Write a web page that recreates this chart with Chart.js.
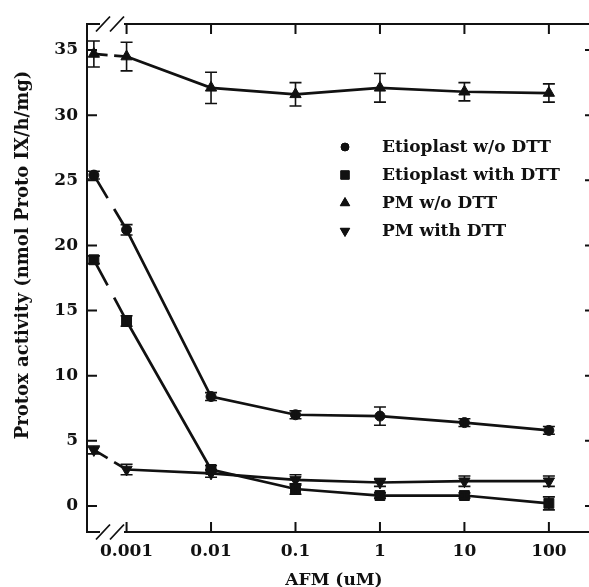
<!DOCTYPE html>
<html>
<head>
<meta charset="utf-8">
<title>Protox activity vs AFM</title>
<script src="https://cdn.jsdelivr.net/npm/chart.js@4/dist/chart.umd.min.js"></script>
<style>
  html, body { margin: 0; padding: 0; background: #fff; }
  canvas { display: block; }
</style>
</head>
<body>
<canvas id="chart" width="589" height="587"></canvas>
<script>
// control (no AFM) is drawn left of the axis break, at this dose on the log axis
const CONTROL_DOSE = 0.00041;

const afmDoses = [CONTROL_DOSE, 0.001, 0.01, 0.1, 1, 10, 100];
const xTickValues = [0.001, 0.01, 0.1, 1, 10, 100];
const xTickLabels = ['0.001', '0.01', '0.1', '1', '10', '100'];
const yTickValues = [0, 5, 10, 15, 20, 25, 30, 35];

const seriesLabels = ['Etioplast w/o DTT', 'Etioplast with DTT', 'PM w/o DTT', 'PM with DTT'];

const etioplastNoDtt    = [25.4, 21.2, 8.4, 7.0, 6.9, 6.4, 5.8];
const etioplastNoDttErr = [0.3, 0.4, 0.3, 0.3, 0.7, 0.3, 0.3];
const etioplastDtt      = [18.9, 14.2, 2.8, 1.3, 0.8, 0.8, 0.2];
const etioplastDttErr   = [0.3, 0.4, 0.3, 0.4, 0.2, 0.2, 0.5];
const pmNoDtt           = [34.7, 34.5, 32.1, 31.6, 32.1, 31.8, 31.7];
const pmNoDttErr        = [1.0, 1.1, 1.2, 0.9, 1.1, 0.7, 0.7];
const pmDtt             = [4.3, 2.8, 2.5, 2.0, 1.8, 1.9, 1.9];
const pmDttErr          = [0.3, 0.4, 0.3, 0.4, 0.3, 0.4, 0.4];

const INK = '#111';
const FONT = "'DejaVu Serif', serif";

Chart.defaults.font.family = FONT;
Chart.defaults.font.weight = 'bold';
Chart.defaults.font.size = 17;
Chart.defaults.color = INK;

function toPoints(values) {
  return values.map((v, i) => ({ x: afmDoses[i], y: v }));
}

// the first piece (control -> 0.001) crosses the axis break, so it is broken too
function breakDash(ctx) {
  if (ctx.p0DataIndex !== 0) return undefined;
  const len = Math.hypot(ctx.p1.x - ctx.p0.x, ctx.p1.y - ctx.p0.y);
  return [len * 0.42, len * 0.2, len];
}

function makeDataset(label, values, errors, style, rotation, radius) {
  return {
    label: label,
    data: toPoints(values),
    errors: errors,
    borderColor: INK,
    backgroundColor: INK,
    borderWidth: 2.7,
    pointStyle: style,
    pointRotation: rotation,
    pointRadius: radius,
    pointBorderWidth: 1,
    pointBackgroundColor: INK,
    pointBorderColor: INK,
    tension: 0,
    clip: false,
    segment: { borderDash: breakDash }
  };
}

const frame = {
  id: 'frame',
  beforeDatasetsDraw(chart) {
    const { ctx, chartArea: a, scales } = chart;
    const W = chart.width;
    const gap0 = a.left + 13, gap1 = a.left + 37;
    ctx.save();
    ctx.strokeStyle = INK;
    ctx.lineWidth = 2;
    ctx.beginPath();
    ctx.moveTo(a.left, a.top - 1);
    ctx.lineTo(a.left, a.bottom + 1);
    [a.bottom, a.top].forEach(yy => {
      ctx.moveTo(a.left, yy); ctx.lineTo(gap0, yy);
      ctx.moveTo(gap1, yy); ctx.lineTo(W, yy);
    });
    yTickValues.forEach(v => {
      const py = scales.y.getPixelForValue(v);
      ctx.moveTo(a.left, py); ctx.lineTo(a.left + 10, py);
      ctx.moveTo(W, py); ctx.lineTo(W - 4, py);
    });
    xTickValues.forEach(v => {
      const px = scales.x.getPixelForValue(v);
      ctx.moveTo(px, a.bottom); ctx.lineTo(px, a.bottom - 10);
      ctx.moveTo(px, a.top); ctx.lineTo(px, a.top + 10);
    });
    ctx.stroke();

    // break marks "//"
    ctx.lineWidth = 1.8;
    ctx.beginPath();
    [a.bottom, a.top].forEach(yy => {
      [a.left + 16, a.left + 30].forEach(cx => {
        ctx.moveTo(cx - 7, yy + 7.5);
        ctx.lineTo(cx + 7, yy - 7.5);
      });
    });
    ctx.stroke();
    ctx.restore();
  }
};

const errorBars = {
  id: 'errorBars',
  afterDatasetsDraw(chart) {
    const { ctx, scales } = chart;
    ctx.save();
    ctx.strokeStyle = INK;
    ctx.lineWidth = 1.6;
    chart.data.datasets.forEach((ds, di) => {
      const meta = chart.getDatasetMeta(di);
      meta.data.forEach((pt, i) => {
        const v = ds.data[i].y, e = ds.errors[i];
        const top = scales.y.getPixelForValue(v + e);
        const bot = scales.y.getPixelForValue(v - e);
        ctx.beginPath();
        ctx.moveTo(pt.x, top); ctx.lineTo(pt.x, bot);
        ctx.moveTo(pt.x - 6, top); ctx.lineTo(pt.x + 6, top);
        ctx.moveTo(pt.x - 6, bot); ctx.lineTo(pt.x + 6, bot);
        ctx.stroke();
      });
    });
    ctx.restore();
  }
};

const labels = {
  id: 'labels',
  afterDraw(chart) {
    const { ctx, chartArea: a } = chart;
    ctx.save();
    ctx.fillStyle = INK;

    // legend inside the plot
    ctx.font = 'bold 17px ' + FONT;
    ctx.textAlign = 'left';
    ctx.textBaseline = 'middle';
    chart.data.datasets.forEach((ds, i) => {
      const yy = 147 + i * 28;
      Chart.helpers.drawPoint(ctx, {
        pointStyle: ds.pointStyle,
        rotation: ds.pointRotation,
        radius: ds.pointRadius - 1,
        borderWidth: 1
      }, 345, yy);
      ctx.fill();
      ctx.fillText(ds.label, 382, yy + 1);
    });

    // axis titles
    ctx.textAlign = 'center';
    ctx.textBaseline = 'alphabetic';
    ctx.fillText('AFM (uM)', (a.left + a.right) / 2, 585);

    ctx.font = 'bold 18px ' + FONT;
    ctx.translate(28, 255);
    ctx.rotate(-Math.PI / 2);
    ctx.fillText('Protox activity (nmol Proto IX/h/mg)', 0, 0);
    ctx.restore();
  }
};

new Chart(document.getElementById('chart'), {
  type: 'line',
  data: {
    datasets: [
      makeDataset(seriesLabels[0], etioplastNoDtt, etioplastNoDttErr, 'circle', 0, 5),
      makeDataset(seriesLabels[1], etioplastDtt, etioplastDttErr, 'rect', 0, 7),
      makeDataset(seriesLabels[2], pmNoDtt, pmNoDttErr, 'triangle', 0, 6.5),
      makeDataset(seriesLabels[3], pmDtt, pmDttErr, 'triangle', 180, 6.5)
    ]
  },
  options: {
    responsive: false,
    animation: false,
    layout: { padding: { top: 24, right: 1, left: 0, bottom: 0 } },
    plugins: {
      legend: { display: false },
      tooltip: { enabled: false }
    },
    scales: {
      x: {
        type: 'logarithmic',
        bounds: 'data',
        min: 0.00034,
        max: 240,
        grid: { display: false, drawTicks: false },
        border: { display: false },
        afterBuildTicks: scale => {
          scale.ticks = xTickValues.map(v => ({ value: v }));
        },
        afterFit: scale => {
          scale.height = 55;
          scale.paddingLeft = 0;
          scale.paddingRight = 0;
        },
        ticks: {
          autoSkip: false,
          maxRotation: 0,
          padding: 9,
          callback: (v, i) => xTickLabels[i]
        }
      },
      y: {
        min: -2,
        max: 37,
        grid: { display: false, drawTicks: false },
        border: { display: false },
        afterBuildTicks: scale => {
          scale.ticks = yTickValues.map(v => ({ value: v }));
        },
        afterFit: scale => {
          scale.width = 87;
          scale.paddingTop = 0;
          scale.paddingBottom = 0;
        },
        ticks: { padding: 9 }
      }
    }
  },
  plugins: [frame, errorBars, labels]
});
</script>
</body>
</html>
